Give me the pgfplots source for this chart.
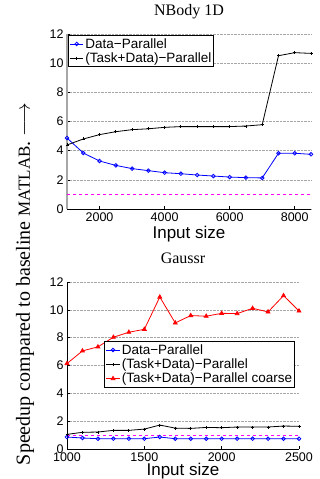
\documentclass[border=0pt]{standalone}
\usepackage{fontspec}
\setmainfont{Liberation Sans}
\newfontfamily\seriffont{Liberation Serif}
\usepackage{pgfplots}
\pgfplotsset{compat=1.18}
\definecolor{mlblue}{RGB}{0,0,255}
\definecolor{mlred}{RGB}{255,0,0}
\definecolor{mlmag}{RGB}{255,0,255}
\pgfplotsset{mystyle/.style={
  scale only axis,
  axis x line=bottom, axis y line=left,
  axis line style={-, line width=0.8pt},
  ymin=0, ymax=12, ytick={0,2,...,12},
  ymajorgrids, grid style={densely dotted, gray!70, line width=0.6pt},
  tick align=inside,
  major tick length=3pt,
  tick style={black, line width=0.6pt},
  tick label style={font=\fontsize{12.5}{14}\selectfont},
  /pgf/number format/assume math mode=true,
  /pgf/number format/1000 sep={},
  xlabel style={font=\fontsize{17}{19}\selectfont, at={(axis description cs:0.5,0)}, anchor=base, yshift=-30pt},
  title style={font=\seriffont\fontsize{16}{18}\selectfont, at={(axis description cs:0.5,1)}, anchor=base, yshift=12pt},
  legend style={font=\fontsize{13.5}{15}\selectfont, draw=black, line width=0.9pt, inner sep=1pt, row sep=-1pt, fill=white,
    nodes={inner xsep=1.5pt}},
  legend image code/.code={\draw[mark repeat=2, mark phase=2] plot coordinates {(0cm,0cm) (0.24cm,0cm) (0.48cm,0cm)};},
  legend cell align=left,
}}
\begin{document}
\begin{tikzpicture}
\useasboundingbox (0,0) rectangle (320pt,479pt);
% top axis
\begin{axis}[mystyle,
  at={(67pt,270pt)}, anchor=south west,
  width=244pt, height=175pt,
  xmin=1000, xmax=8500, xtick={2000,4000,6000,8000},
  y axis line style={gray!70, line width=1.5pt},
  title={NBody 1D}, xlabel={Input size},
  legend style={at={(axis description cs:0.004,0.995)}, anchor=north west},
]
\addplot[mlmag, dashed, line width=1pt, forget plot] coordinates {(1000,1) (8500,1)};
\addplot[mlblue, line width=0.8pt, mark=o, mark size=1.8pt, mark options={solid}] coordinates {
(1000,4.87) (1500,3.84) (2000,3.29) (2500,2.99) (3000,2.77) (3500,2.63) (4000,2.49) (4500,2.42)
(5000,2.33) (5500,2.26) (6000,2.19) (6500,2.15) (7000,2.13) (7500,3.82) (8000,3.82) (8500,3.75)};
\addlegendentry{Data\textminus Parallel}
\addplot[black, line width=0.8pt, mark=+, mark size=1.5pt] coordinates {
(1000,4.39) (1500,4.80) (2000,5.10) (2500,5.30) (3000,5.44) (3500,5.50) (4000,5.60) (4500,5.65)
(5000,5.65) (5500,5.65) (6000,5.65) (6500,5.69) (7000,5.78) (7500,10.51) (8000,10.72) (8500,10.67)};
\addlegendentry{(Task+Data)\textminus Parallel}
\end{axis}
% bottom axis
\begin{axis}[mystyle,
  at={(67pt,30pt)}, anchor=south west,
  width=232pt, height=167pt,
  xmin=1000, xmax=2500, xtick={1000,1500,2000,2500},
  title={Gaussr}, xlabel={Input size},
  xlabel style={yshift=3pt},
  legend style={at={(axis description cs:0.983,0.647)}, anchor=north east},
]
\addplot[mlmag, dashed, line width=1pt, forget plot] coordinates {(1000,1) (2500,1)};
\addplot[mlblue, line width=0.8pt, mark=o, mark size=1.8pt] coordinates {
(1000,0.86) (1100,0.79) (1200,0.74) (1300,0.74) (1400,0.74) (1500,0.74) (1600,0.86) (1700,0.74)
(1800,0.74) (1900,0.74) (2000,0.74) (2100,0.74) (2200,0.74) (2300,0.74) (2400,0.74) (2500,0.74)};
\addlegendentry{Data\textminus Parallel}
\addplot[black, line width=0.8pt, mark=+, mark size=1.5pt] coordinates {
(1000,1.05) (1100,1.20) (1200,1.22) (1300,1.34) (1400,1.34) (1500,1.43) (1600,1.72) (1700,1.50)
(1800,1.48) (1900,1.55) (2000,1.53) (2100,1.58) (2200,1.58) (2300,1.58) (2400,1.65) (2500,1.63)};
\addlegendentry{(Task+Data)\textminus Parallel}
\addplot[mlred, line width=0.8pt, mark=triangle*, mark size=2.2pt] coordinates {
(1000,6.14) (1100,7.05) (1200,7.34) (1300,8.03) (1400,8.39) (1500,8.60) (1600,10.92) (1700,9.06)
(1800,9.59) (1900,9.54) (2000,9.75) (2100,9.73) (2200,10.11) (2300,9.85) (2400,11.02) (2500,9.92)};
\addlegendentry{(Task+Data)\textminus Parallel coarse}
\end{axis}
\node[rotate=90, font=\seriffont\fontsize{20}{22}\selectfont, anchor=center, inner sep=0pt] at (25pt,195pt)
  {Speedup compared to baseline {\fontsize{17}{19}\selectfont MATLAB}. $\longrightarrow$};
\end{tikzpicture}
\end{document}
